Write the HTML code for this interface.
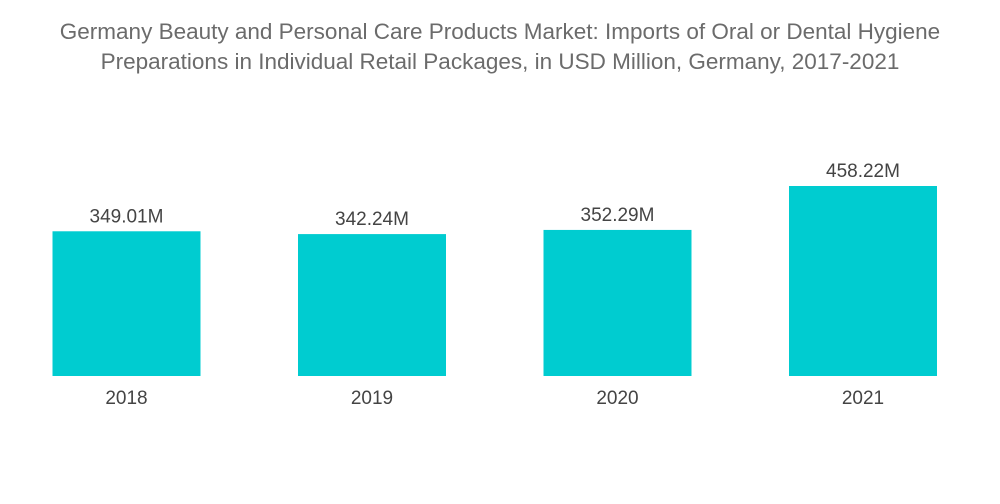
<!DOCTYPE html>
<html><head><meta charset="utf-8"><style>
body{margin:0;width:1000px;height:504px;background:#fff;font-family:"Liberation Sans",sans-serif;overflow:hidden}
#title{position:absolute;top:17px;left:0;width:1000px;text-align:center;color:#6b6b6b;font-size:22.5px;line-height:30px;white-space:nowrap}
svg{position:absolute;left:0;top:0}
</style></head><body>
<div id="title">Germany Beauty and Personal Care Products Market: Imports of Oral or Dental Hygiene<br>Preparations in Individual Retail Packages, in USD Million, Germany, 2017-2021</div>
<svg id="chart" width="1000" height="504"></svg>
<script>
const categories=["2018","2019","2020","2021"];
const values=[349.01,342.24,352.29,458.22];
const labels=["349.01M","342.24M","352.29M","458.22M"];
const svg=document.getElementById('chart');
const NS='http://www.w3.org/2000/svg';
const baseY=376, maxV=458.22, maxH=190;
function y(v){return baseY-v/maxV*maxH;}
function x(i){return 52.5+i*245.5;}
const bw=148;
categories.forEach((c,i)=>{
  const r=document.createElementNS(NS,'rect');
  r.setAttribute('x',x(i));r.setAttribute('y',y(values[i]));
  r.setAttribute('width',bw);r.setAttribute('height',baseY-y(values[i]));
  r.setAttribute('fill','#00ccd0');
  
  
  svg.appendChild(r);
  const t=document.createElementNS(NS,'text');
  t.setAttribute('x',x(i)+bw/2);t.setAttribute('y',y(values[i])-9);
  t.setAttribute('text-anchor','middle');t.setAttribute('font-size','19');t.setAttribute('fill','#444');
  t.textContent=labels[i];
  
  
  svg.appendChild(t);
  const a=document.createElementNS(NS,'text');
  a.setAttribute('x',x(i)+bw/2);a.setAttribute('y',404);
  a.setAttribute('text-anchor','middle');a.setAttribute('font-size','19');a.setAttribute('fill','#444');
  a.textContent=c;
  
  
  svg.appendChild(a);
});
</script>
</body></html>
